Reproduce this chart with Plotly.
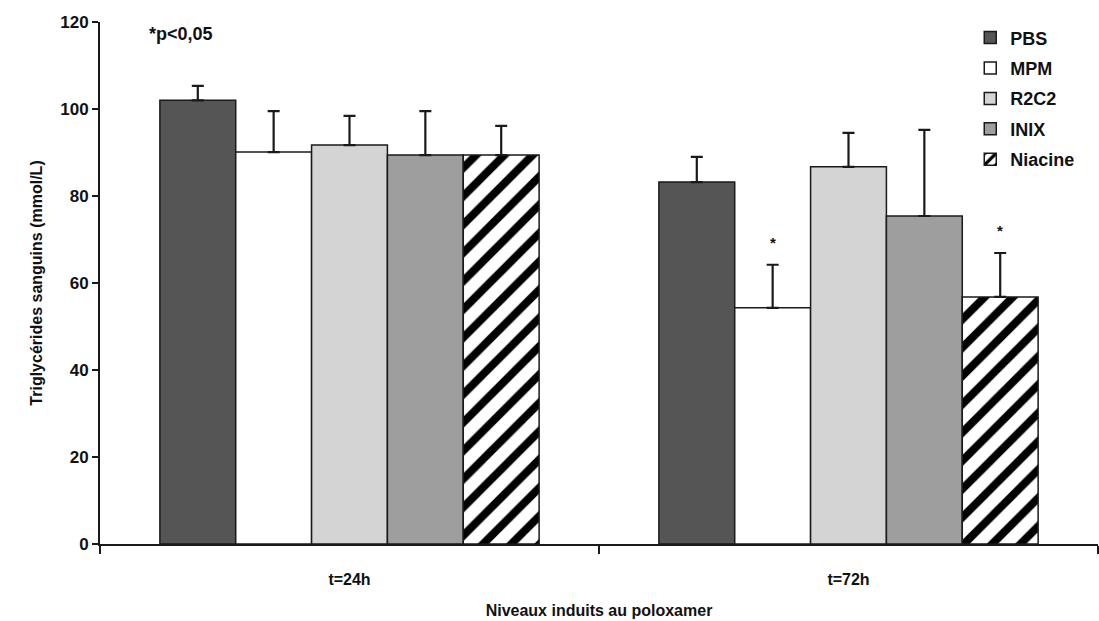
import plotly.graph_objects as go

categories = ["t=24h", "t=72h"]
series = ["PBS", "MPM", "R2C2", "INIX", "Niacine"]
means = {
    "PBS": [102.0, 83.2],
    "MPM": [90.1, 54.3],
    "R2C2": [91.7, 86.7],
    "INIX": [89.4, 75.4],
    "Niacine": [89.4, 56.8],
}
errors = {
    "PBS": [3.3, 5.8],
    "MPM": [9.4, 9.9],
    "R2C2": [6.7, 7.8],
    "INIX": [10.1, 19.8],
    "Niacine": [6.7, 10.1],
}
y_ticks = [0, 20, 40, 60, 80, 100, 120]
colors = {"PBS": "#555555", "MPM": "#ffffff", "R2C2": "#d4d4d4", "INIX": "#9e9e9e", "Niacine": "#ffffff"}
sig_marks = [("MPM", "t=72h"), ("Niacine", "t=72h")]

FONT = "Liberation Sans, Arial, sans-serif"
fig = go.Figure()
for s in series:
    marker = dict(color=colors[s], line=dict(color="#1a1a1a", width=1.5))
    if s == "Niacine":
        marker["pattern"] = dict(shape="/", fgcolor="#000000", bgcolor="#ffffff", fgopacity=1,
                                 size=20, solidity=0.4)
    fig.add_trace(go.Bar(
        name=f"<b>{s}</b>", x=categories, y=means[s], marker=marker, legendgroup=s,
        error_y=dict(type="data", array=errors[s], arrayminus=[0] * len(categories),
                     symmetric=False, color="#1a1a1a", thickness=2.2, width=6),
    ))

fig.update_layout(
    barmode="group", bargap=0.24, bargroupgap=0,
    width=1099, height=621,
    margin=dict(l=100, r=1, t=22, b=77),
    plot_bgcolor="white", paper_bgcolor="white",
    font=dict(family=FONT, size=15, color="#111111"),
    showlegend=True,
    legend=dict(x=0.872, y=1.005, xanchor="left", yanchor="top", bgcolor="rgba(0,0,0,0)",
                font=dict(family=FONT, size=18, color="#111111"),
                tracegroupgap=4, itemwidth=30, traceorder="grouped"),
)
fig.update_yaxes(range=[0, 120], tickvals=y_ticks, ticktext=[f"<b>{v}</b>" for v in y_ticks],
                 showgrid=False,
                 showline=True, linecolor="#1a1a1a", linewidth=2, ticks="outside", ticklen=6,
                 tickwidth=2, tickcolor="#1a1a1a", zeroline=False,
                 tickfont=dict(family=FONT, size=17),
                 title=dict(text="<b>Triglycérides sanguins (mmol/L)</b>", standoff=14,
                            font=dict(family=FONT, size=16)))
fig.update_xaxes(showgrid=False, showline=True, linecolor="#1a1a1a", linewidth=2,
                 ticks="outside", tickson="boundaries", ticklen=8, tickwidth=2, tickcolor="#1a1a1a",
                 tickvals=categories, ticktext=[f"<b>{c}</b>" for c in categories],
                 tickfont=dict(family=FONT, size=16), ticklabelstandoff=20,
                 title=dict(text="<b>Niveaux induits au poloxamer</b>", standoff=18,
                            font=dict(family=FONT, size=16)))

fig.add_annotation(text="<b>*p<0,05</b>", xref="paper", yref="paper", x=0.047, y=1.0, yanchor="top",
                   xanchor="left", showarrow=False, font=dict(family=FONT, size=18))

bar_px = 75.5
for s, c in sig_marks:
    idx = series.index(s) - 2
    ci = categories.index(c)
    fig.add_annotation(text="<b>*</b>", x=c, y=means[s][ci] + errors[s][ci], yshift=22,
                       xshift=idx * bar_px, showarrow=False,
                       font=dict(family=FONT, size=15))

fig.write_html("out.html")
